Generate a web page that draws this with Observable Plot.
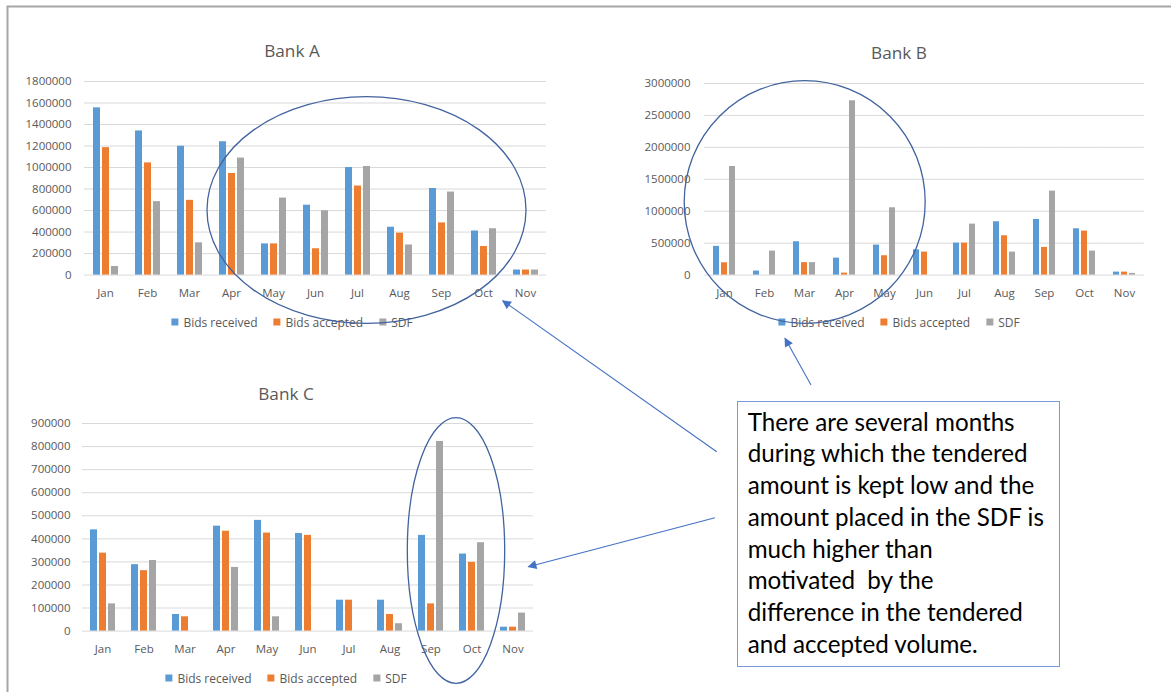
<!DOCTYPE html>
<html>
<head>
<meta charset="utf-8">
<script src="https://cdn.jsdelivr.net/npm/d3@7"></script>
<script src="https://cdn.jsdelivr.net/npm/@observablehq/plot@0.6"></script>
<style>
  html, body { margin: 0; padding: 0; background: #fff; }
  #page { position: relative; width: 1171px; height: 692px; overflow: hidden; background: #fff; font-family: "Open Sans", sans-serif; }
  .chart { position: absolute; }
  .title { position: absolute; transform: translate(-50%, -50%); font-size: 17.2px; color: #595959; white-space: nowrap; }
  .legend { position: absolute; transform: translate(-50%, -50%); display: flex; align-items: center; gap: 16px; font-size: 12px; color: #595959; white-space: nowrap; }
  .legend .item { display: flex; align-items: center; gap: 5px; }
  .legend .swatch { width: 7px; height: 7px; display: inline-block; }
  #note { position: absolute; box-sizing: border-box; border: 1.5px solid #7a9ad8; background: #fff;
          font-family: "Lato", sans-serif; font-size: 24.2px; line-height: 31.7px; color: #000; padding: 4px 0 0 10px; }
  #overlay { position: absolute; left: 0; top: 0; pointer-events: none; }
</style>
</head>
<body>
<div id="page"></div>
<script>
// Months and series shared by the three banks
const months = ["Jan", "Feb", "Mar", "Apr", "May", "Jun", "Jul", "Aug", "Sep", "Oct", "Nov"];
const series = ["Bids received", "Bids accepted", "SDF"];
const seriesColors = ["#5b9bd5", "#ed7d31", "#a5a5a5"];

// Bank A
const bankAReceived = [1555000, 1340000, 1198000, 1240000, 290000, 650000, 1000000, 445000, 805000, 410000, 47000];
const bankAAccepted = [1185000, 1043000, 695000, 945000, 290000, 245000, 828000, 390000, 485000, 266000, 47000];
const bankASDF      = [80000, 683000, 300000, 1088000, 716000, 598000, 1010000, 280000, 772000, 431000, 47000];
const bankATicks    = [0, 200000, 400000, 600000, 800000, 1000000, 1200000, 1400000, 1600000, 1800000];

// Bank B
const bankBReceived = [450000, 63000, 522000, 266000, 470000, 396000, 501000, 835000, 871000, 725000, 47000];
const bankBAccepted = [193000, 0, 195000, 31000, 303000, 360000, 501000, 616000, 433000, 689000, 47000];
const bankBSDF      = [1701000, 376000, 195000, 2729000, 1054000, 0, 798000, 360000, 1315000, 376000, 26000];
const bankBTicks    = [0, 500000, 1000000, 1500000, 2000000, 2500000, 3000000];

// Bank C
const bankCReceived = [439000, 288000, 72000, 455000, 480000, 423000, 134000, 134000, 415000, 334000, 17000];
const bankCAccepted = [338000, 262000, 62000, 433000, 425000, 415000, 134000, 72000, 118000, 298000, 17000];
const bankCSDF      = [118000, 306000, 0, 276000, 62000, 0, 0, 32000, 822000, 383000, 78000];
const bankCTicks    = [0, 100000, 200000, 300000, 400000, 500000, 600000, 700000, 800000, 900000];

const noteText = [
  "There are several months",
  "during which the tendered",
  "amount is kept low and the",
  "amount placed in the SDF is",
  "much higher than",
  "motivated\u00a0 by the",
  "difference in the tendered",
  "and accepted volume."
];

const page = document.getElementById("page");

// One grouped bar chart: months as horizontal facets, the three series side by side inside each month
function bankChart({title, values, ticks, plotLeft, plotRight, plotTop, plotBottom, cx, titleY, legendY, labelGap}) {
  const rows = months.flatMap((m, i) => series.map((s, j) => ({month: m, series: s, value: values[j][i]})));
  const marginLeft = 70, marginRight = 10, marginTop = 10, marginBottom = 30;
  const width = plotRight - plotLeft + marginLeft + marginRight;
  const height = plotBottom - plotTop + marginTop + marginBottom;

  const svg = Plot.plot({
    width, height, marginLeft, marginRight, marginTop, marginBottom,
    style: {fontFamily: "'Open Sans', sans-serif", fontSize: "11.5px", color: "#595959", background: "transparent", overflow: "visible"},
    facet: {data: rows, x: "month"},
    fx: {domain: months, padding: 0, label: null, axis: "bottom", tickSize: 0, tickPadding: 13.5},
    x: {domain: series, axis: null, paddingInner: 0.25, paddingOuter: 0.9},
    y: {domain: [0, ticks[ticks.length - 1]], ticks, tickFormat: d3.format("d"), label: null, tickSize: 0, tickPadding: labelGap},
    color: {domain: series, range: seriesColors},
    marks: [
      Plot.ruleY(ticks, {stroke: "#d9d9d9", strokeWidth: 1}),
      Plot.barY(rows, {x: "series", y: "value", fill: "series"})
    ]
  });

  const holder = document.createElement("div");
  holder.className = "chart";
  holder.style.left = (plotLeft - marginLeft) + "px";
  holder.style.top = (plotTop - marginTop) + "px";
  holder.appendChild(svg);
  page.appendChild(holder);

  const t = document.createElement("div");
  t.className = "title";
  t.textContent = title;
  t.style.left = cx + "px";
  t.style.top = titleY + "px";
  page.appendChild(t);

  const lg = document.createElement("div");
  lg.className = "legend";
  lg.style.left = cx + "px";
  lg.style.top = legendY + "px";
  series.forEach((s, j) => {
    const item = document.createElement("span");
    item.className = "item";
    const sw = document.createElement("span");
    sw.className = "swatch";
    sw.style.background = seriesColors[j];
    const label = document.createElement("span");
    label.textContent = s;
    item.append(sw, label);
    lg.appendChild(item);
  });
  page.appendChild(lg);
}

bankChart({title: "Bank A", values: [bankAReceived, bankAAccepted, bankASDF], ticks: bankATicks,
  plotLeft: 83.3, plotRight: 547.7, plotTop: 80.7, plotBottom: 274.3, cx: 292, titleY: 50, legendY: 321.7, labelGap: 13});
bankChart({title: "Bank B", values: [bankBReceived, bankBAccepted, bankBSDF], ticks: bankBTicks,
  plotLeft: 700, plotRight: 1147.8, plotTop: 82.7, plotBottom: 274.3, cx: 899, titleY: 52, legendY: 321.7, labelGap: 14});
bankChart({title: "Bank C", values: [bankCReceived, bankCAccepted, bankCSDF], ticks: bankCTicks,
  plotLeft: 77.3, plotRight: 537.4, plotTop: 422.7, plotBottom: 630.3, cx: 286, titleY: 393, legendY: 677.7, labelGap: 12});

// Comment box
const note = document.createElement("div");
note.id = "note";
Object.assign(note.style, {left: "736.7px", top: "400.7px", width: "323.3px", height: "266px"});
note.innerHTML = noteText.map(l => `<div>${l}</div>`).join("");
page.appendChild(note);

// Page frame, highlight ellipses and pointer arrows
const overlay = d3.select(page).append("svg").attr("id", "overlay").attr("width", 1171).attr("height", 692);
overlay.append("defs").append("marker")
  .attr("id", "head").attr("viewBox", "0 0 10 10").attr("refX", 9).attr("refY", 5)
  .attr("markerWidth", 10).attr("markerHeight", 9).attr("markerUnits", "userSpaceOnUse").attr("orient", "auto")
  .append("path").attr("d", "M0,0L10,5L0,10Z").attr("fill", "#4472c4");

overlay.append("path").attr("d", "M7.5,692V6.5H1171").attr("fill", "none").attr("stroke", "#a6a6a6").attr("stroke-width", 2);

const ellipses = [
  {cx: 366.5, cy: 210, rx: 159.5, ry: 113.3},
  {cx: 804.7, cy: 202, rx: 120.5, ry: 121.3},
  {cx: 456, cy: 550.5, rx: 48.7, ry: 132.8}
];
overlay.selectAll("ellipse").data(ellipses).join("ellipse")
  .attr("cx", d => d.cx).attr("cy", d => d.cy).attr("rx", d => d.rx).attr("ry", d => d.ry)
  .attr("fill", "none").attr("stroke", "#41639f").attr("stroke-width", 1.3);

const arrows = [
  {x1: 716.7, y1: 451.7, x2: 502.7, y2: 300.7},
  {x1: 811, y1: 385, x2: 785, y2: 338.3},
  {x1: 715, y1: 517.7, x2: 528.3, y2: 566.7}
];
overlay.selectAll("line").data(arrows).join("line")
  .attr("x1", d => d.x1).attr("y1", d => d.y1).attr("x2", d => d.x2).attr("y2", d => d.y2)
  .attr("stroke", "#4472c4").attr("stroke-width", 1.1).attr("marker-end", "url(#head)");
</script>
</body>
</html>
